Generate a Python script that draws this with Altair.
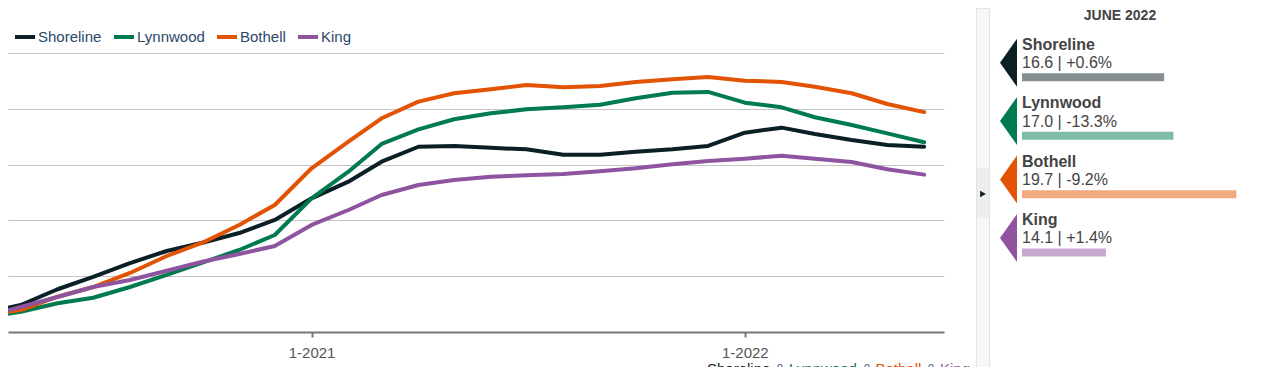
import altair as alt
import pandas as pd

FONT = "Liberation Sans"

# ---- data -------------------------------------------------------------
months = [
    "2020-04-01", "2020-05-01", "2020-06-01", "2020-07-01", "2020-08-01", "2020-09-01",
    "2020-10-01", "2020-11-01", "2020-12-01", "2021-01-01", "2021-02-01", "2021-03-01",
    "2021-04-01", "2021-05-01", "2021-06-01", "2021-07-01", "2021-08-01", "2021-09-01",
    "2021-10-01", "2021-11-01", "2021-12-01", "2022-01-01", "2022-02-01", "2022-03-01",
    "2022-04-01", "2022-05-01", "2022-06-01",
]
shoreline = [1.70, 2.42, 3.83, 4.93, 6.18, 7.26, 8.00, 8.87, 10.04, 11.98, 13.47, 15.26,
             16.60, 16.67, 16.50, 16.37, 15.89, 15.89, 16.16, 16.37, 16.67, 17.86, 18.31,
             17.74, 17.20, 16.76, 16.60]
lynnwood = [1.34, 1.82, 2.57, 3.07, 4.03, 5.11, 6.21, 7.35, 8.69, 11.98, 14.36, 16.85,
            18.16, 19.06, 19.60, 19.95, 20.13, 20.37, 20.94, 21.44, 21.51, 20.55, 20.13,
            19.24, 18.55, 17.80, 17.00]
bothell = [1.52, 1.97, 3.16, 4.03, 5.29, 6.81, 8.00, 9.59, 11.38, 14.67, 17.05, 19.15,
           20.64, 21.39, 21.75, 22.13, 21.93, 22.04, 22.40, 22.64, 22.85, 22.52, 22.40,
           21.98, 21.39, 20.43, 19.70]
king = [1.43, 2.24, 3.14, 4.03, 4.66, 5.49, 6.30, 6.99, 7.71, 9.59, 10.93, 12.28,
        13.17, 13.62, 13.92, 14.04, 14.16, 14.40, 14.67, 15.03, 15.32, 15.53, 15.80,
        15.53, 15.23, 14.58, 14.10]

cities = ["Shoreline", "Lynnwood", "Bothell", "King"]
colors = ["#0b1f26", "#007a4f", "#e25304", "#8f54a0"]

panel_month = "JUNE 2022"
latest_value = [16.6, 17.0, 19.7, 14.1]
latest_change = ["+0.6%", "-13.3%", "-9.2%", "+1.4%"]
bar_floor = 10.5

caption_words = ["Shoreline", "&", "Lynnwood", "&", "Bothell", "&", "King"]
caption_colors = [colors[0], "#5a7090", colors[1], "#5a7090", colors[2], "#5a7090", colors[3]]

# ---- tables -----------------------------------------------------------
series = {"Shoreline": shoreline, "Lynnwood": lynnwood, "Bothell": bothell, "King": king}
rows = []
for c in cities:
    for m, v in zip(months, series[c]):
        rows.append({"date": m + "T00:00:00", "city": c, "value": v})
df = pd.DataFrame(rows)

panel = pd.DataFrame({
    "city": cities,
    "value": latest_value,
    "label": [f"{v:.1f} | {ch}" for v, ch in zip(latest_value, latest_change)],
})

color_scale = alt.Scale(domain=cities, range=colors)

# ---- main line chart --------------------------------------------------
x_enc = alt.X(
    "date:T",
    title=None,
    scale=alt.Scale(domain=[alt.DateTime(year=2020, month=4, date=20, hours=6),
                            alt.DateTime(year=2022, month=6, date=17, hours=18)]),
    axis=alt.Axis(values=[alt.DateTime(year=2021, month=1, date=1),
                          alt.DateTime(year=2022, month=1, date=1)],
                  format="%-m-%Y", grid=False, domainColor="#777777", domainWidth=2,
                  tickColor="#777777", tickWidth=2, tickSize=5, labelFontSize=15,
                  labelColor="#555555", labelPadding=8, labelFont=FONT),
)
y_enc = alt.Y(
    "value:Q",
    title=None,
    scale=alt.Scale(domain=[0, 25], nice=False, zero=True),
    axis=alt.Axis(values=[0, 5, 10, 15, 20, 25], labels=False, ticks=False, domain=False,
                  grid=True, gridColor="#c4c4c4", gridWidth=1),
)

lines = alt.Chart(df).mark_line(strokeWidth=4, clip=True, strokeCap="round",
                                strokeJoin="round").encode(
    x=x_enc,
    y=y_enc,
    color=alt.Color(
        "city:N", scale=color_scale, sort=cities,
        legend=alt.Legend(orient="none", legendX=5, legendY=-28, direction="horizontal",
                          title=None, symbolType="stroke", symbolStrokeWidth=4,
                          symbolSize=400, labelFontSize=15, labelColor="#2c486a",
                          labelFont=FONT, labelOffset=1, columnPadding=4, padding=0),
    ),
)

caption_x = [699, 767, 781, 854, 867.5, 918, 932]
caption_layers = []
for w, col, px in zip(caption_words, caption_colors, caption_x):
    caption_layers.append(
        alt.Chart(pd.DataFrame({"t": [w]})).mark_text(
            align="left", baseline="alphabetic", fontSize=15, font=FONT, color=col
        ).encode(x=alt.value(px), y=alt.value(321), text="t:N")
    )

main = alt.layer(lines, *caption_layers).properties(width=936, height=279)

# ---- right side panel -------------------------------------------------
y_panel = alt.Y("city:N", sort=cities, axis=None,
                scale=alt.Scale(type="band", domain=cities, range=[-19.5, 214.1],
                                paddingInner=0, paddingOuter=0))
pbase = alt.Chart(panel)

TRI = "M 0.354 -1 L -0.354 0 L 0.354 1 Z"
triangles = pbase.mark_point(shape=TRI, size=2304, filled=True, opacity=1,
                             strokeWidth=0).encode(
    x=alt.value(8.5), y=y_panel,
    color=alt.Color("city:N", scale=color_scale, legend=None))
names = pbase.mark_text(align="left", baseline="alphabetic", dy=-12.8, fontSize=16,
                        fontWeight="bold", font=FONT, color="#444444").encode(
    x=alt.value(22), y=y_panel, text="city:N")
values = pbase.mark_text(align="left", baseline="alphabetic", dy=5.4, fontSize=16,
                         font=FONT, color="#444444").encode(
    x=alt.value(22), y=y_panel, text="label:N")
bars = pbase.mark_bar(height=8, yOffset=14.65, opacity=0.5).encode(
    x=alt.X("value:Q", axis=None,
            scale=alt.Scale(domain=[bar_floor, 20], range=[22, 243.35], zero=False, nice=False)),
    x2=alt.datum(bar_floor),
    y=y_panel,
    color=alt.Color("city:N", scale=color_scale, legend=None))

one = pd.DataFrame({"k": [0]})
head = alt.Chart(pd.DataFrame({"t": [panel_month]})).mark_text(
    align="center", baseline="alphabetic", fontSize=14, fontWeight="bold", font=FONT,
    color="#444444").encode(x=alt.value(120), y=alt.value(-33), text="t:N")
strip = alt.Chart(one).mark_rect(fill="#f7f7f7", stroke="#e4e4e4", strokeWidth=1).encode(
    x=alt.value(-23.5), x2=alt.value(-10.5), y=alt.value(-44.5), y2=alt.value(330))
strip_btn = alt.Chart(one).mark_rect(fill="#eeeeee").encode(
    x=alt.value(-23), x2=alt.value(-11), y=alt.value(115), y2=alt.value(165))
strip_arrow = alt.Chart(one).mark_point(shape="triangle-right", filled=True, size=45,
                                        color="#0b1f26", opacity=1).encode(
    x=alt.value(-17), y=alt.value(141))

side = alt.layer(strip, strip_btn, strip_arrow, head, triangles, names, values, bars
                 ).properties(width=240, height=234)

chart = alt.hconcat(main, side, spacing=5).resolve_scale(color="independent").properties(
    padding={"left": 0, "top": 0, "right": 0, "bottom": 0}
).configure(font=FONT).configure_view(strokeWidth=0)

chart.save("out.html", embed_options={"renderer": "svg", "actions": False})
